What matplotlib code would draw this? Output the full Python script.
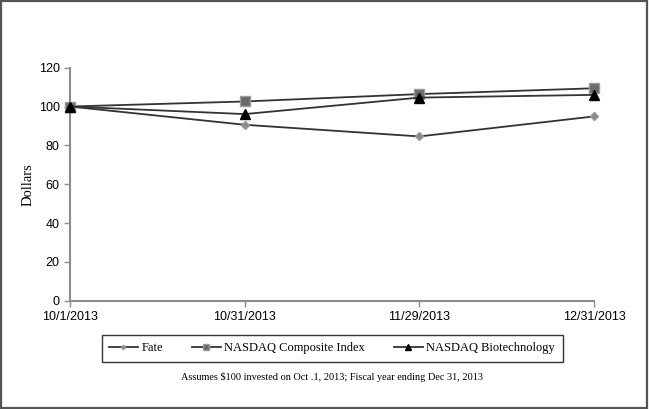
import matplotlib.pyplot as plt
from matplotlib.patches import Rectangle

# dates on the x axis (evenly spaced categories)
dates = ['10/1/2013', '10/31/2013', '11/29/2013', '12/31/2013']

# cumulative value of $100
fate = [100, 90.6, 84.6, 94.9]
nasdaq_comp = [100, 102.6, 106.4, 109.4]
nasdaq_bio = [100, 96.1, 104.6, 106.0]

fig = plt.figure(figsize=(6.49, 4.09), dpi=100)
ax = fig.add_axes([0.1079, 0.2648, 0.8074, 0.5697])

x = range(len(dates))
line_col = '#333333'
ax.plot(x, fate, color=line_col, lw=1.3, marker='D', ms=4,
        mfc='#8a8a8a', mec='#9a9a9a', label='Fate', zorder=3)
ax.plot(x, nasdaq_comp, color=line_col, lw=1.3, marker='s', ms=7.5,
        mfc='#6a6a6a', mec='#9a9a9a', label='NASDAQ Composite Index', zorder=4)
ax.plot(x, nasdaq_bio, color=line_col, lw=1.3, marker='^', ms=7,
        mfc='black', mec='black', label='NASDAQ Biotechnology', zorder=5)

ax.set_xlim(0, len(dates) - 1)
ax.set_ylim(0, 120)
ax.set_yticks(range(0, 121, 20))
ax.set_xticks(list(x))
ax.set_xticklabels(dates)

for s in ['top', 'right']:
    ax.spines[s].set_visible(False)
for s in ['left', 'bottom']:
    ax.spines[s].set_color('#8c8c8c')
    ax.spines[s].set_linewidth(1.5)
ax.tick_params(colors='#8c8c8c', labelcolor='black', length=4, width=1,
               labelsize=9)
for lab in ax.get_xticklabels() + ax.get_yticklabels():
    lab.set_family('Liberation Sans')
for l in ax.lines:
    l.set_clip_on(False)

ax.set_ylabel('Dollars', family='Liberation Serif', fontsize=10.5, labelpad=3)

leg = fig.legend(loc='center', bbox_to_anchor=(332 / 649, 1 - 348 / 409),
                 ncol=3, frameon=True, fancybox=False, edgecolor='black',
                 prop={'family': 'Liberation Serif', 'size': 9},
                 handlelength=2.3, columnspacing=2.3, handletextpad=0.3,
                 borderpad=0.6, borderaxespad=0, markerscale=0.55)
leg.get_frame().set_linewidth(1.0)

fig.text(332 / 649, 1 - 377 / 409,
         'Assumes $100 invested on Oct .1, 2013; Fiscal year ending Dec 31, 2013',
         ha='center', va='center', family='Liberation Serif', fontsize=7.4)

# outer frame
fig.patches.append(Rectangle((0.002, 0.003), 0.995, 0.994, transform=fig.transFigure,
                             fill=False, edgecolor='#555555', lw=1.6))

fig.savefig('out.png', dpi=100)
